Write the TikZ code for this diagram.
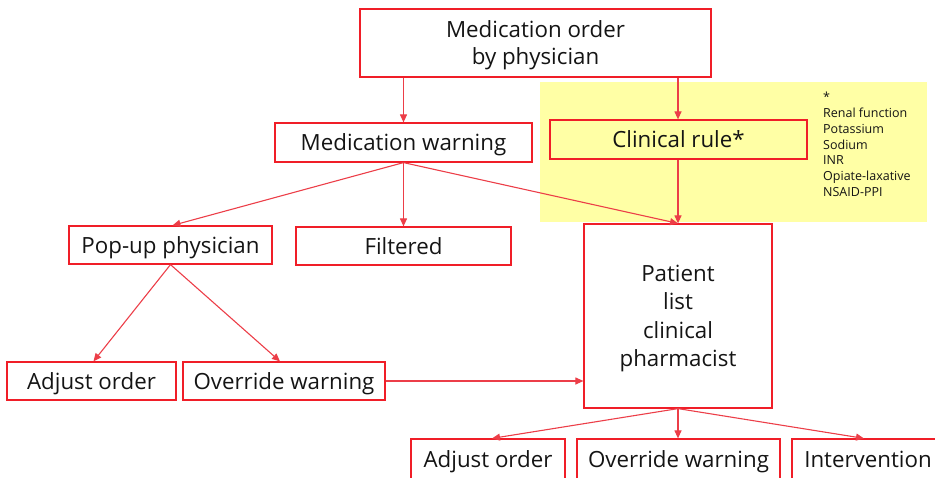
\documentclass[tikz,border=0pt]{standalone}
\usepackage{fontspec}
\setmainfont{Open Sans}
\usetikzlibrary{arrows.meta}
\definecolor{boxred}{RGB}{240,30,40}
\definecolor{arrred}{RGB}{236,62,72}
\definecolor{notebg}{RGB}{255,255,165}
\definecolor{txt}{RGB}{20,20,20}
\tikzset{
  flowbox/.style={draw=boxred, line width=1.2pt, inner sep=0pt, text=txt,
    font=\fontsize{22.3}{27}\selectfont, align=center},
  onebox/.style={flowbox, text height=16pt, text depth=0pt},
  flow/.style={draw=arrred, line width=1.1pt,
    -{Triangle[length=8pt,width=7pt]}},
}
\begin{document}
\begin{tikzpicture}[x=1pt,y=-1pt]
\useasboundingbox (0,0) rectangle (935,477);
\clip (0,0) rectangle (935,477);

% highlighted area behind the clinical rule
\fill[notebg] (540,82) rectangle (927,222);

% nodes (text boxes sized from the cap top of the first line
% to the baseline of the last line, so the text sits centred)
\node[flowbox, text height=43pt, text depth=0pt,
  minimum width=351pt, minimum height=68pt] (order) at (535.5,43)
  {Medication order\\by physician};
\node[onebox, minimum width=257pt, minimum height=39pt] (warn) at (403.5,142.5)
  {Medication warning};
\node[onebox, minimum width=257pt, minimum height=39pt] (rule) at (678.5,139.5)
  {Clinical rule*};
\node[anchor=north west, inner sep=0pt, align=left, text=txt,
  font=\fontsize{12.5}{15.8}\selectfont] (rulelist) at (823,92)
  {*\\Renal function\\Potassium\\Sodium\\INR\\Opiate-laxative\\NSAID-PPI};
\node[onebox, minimum width=203pt, minimum height=38pt] (popup) at (170.5,245)
  {Pop-up physician};
\node[onebox, minimum width=215pt, minimum height=38pt] (filt) at (403.5,246)
  {Filtered};
\node[flowbox, font=\fontsize{22.3}{28.3}\selectfont,
  text height=100.9pt, text depth=0pt,
  minimum width=188pt, minimum height=184pt] (patient) at (678,316)
  {Patient\\list\\clinical\\pharmacist};
\node[onebox, minimum width=169pt, minimum height=38pt] (adjL) at (91.5,381)
  {Adjust order};
\node[onebox, minimum width=202pt, minimum height=38pt] (ovrL) at (284,381)
  {Override warning};
\node[onebox, minimum width=154pt, minimum height=40pt] (adjB) at (488,459)
  {Adjust order};
\node[onebox, minimum width=203pt, minimum height=40pt] (ovrB) at (678.5,459)
  {Override warning};
\node[onebox, minimum width=152pt, minimum height=40pt] (intB) at (868,459)
  {Intervention};

% connectors
\draw[flow] (order.south -| warn.north) -- (warn.north);
\draw[flow] (order.south -| patient.north) -- (patient.north |- rule.north);
\draw[flow] (warn.south) -- ([xshift=2pt]popup.north);
\draw[flow] (warn.south) -- (filt.north);
\draw[flow] (warn.south) -- (patient.north);
\draw[flow] (rule.south -| patient.north) -- (patient.north);
\draw[flow] (popup.south) -- ([xshift=2pt]adjL.north);
\draw[flow] (popup.south) -- ([xshift=-4pt]ovrL.north);
\draw[flow] (ovrL.east) -- (ovrL.east -| patient.west);
\draw[flow] (patient.south) -- ([xshift=4pt]adjB.north);
\draw[flow] (patient.south) -- (ovrB.north -| patient.south);
\draw[flow] (patient.south) -- ([xshift=-4pt]intB.north);
\end{tikzpicture}
\end{document}
